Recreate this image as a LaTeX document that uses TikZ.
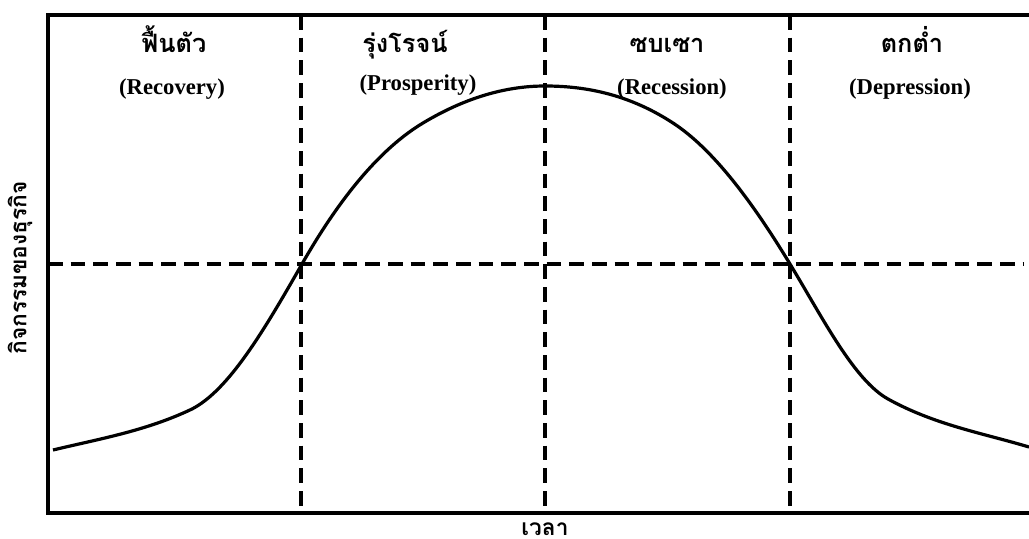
\documentclass[tikz,border=0pt]{standalone}
\usepackage{fontspec}
\setmainfont{Liberation Serif}
\newfontfamily\thaifont[Script=Thai]{Loma}
\usetikzlibrary{positioning}

\begin{document}
\begin{tikzpicture}[x=0.75pt, y=-0.75pt,
    phase/.style={anchor=base, font=\thaifont\bfseries\fontsize{19}{23}\selectfont},
    eng/.style={anchor=base, font=\bfseries\fontsize{17}{20}\selectfont},
    axislabel/.style={font=\thaifont\bfseries\fontsize{17}{20}\selectfont},
    divider/.style={line width=2.6pt, dash pattern=on 11pt off 6pt},
    axis/.style={line width=2.6pt},
    cycle/.style={line width=2.4pt, line join=round}]
    \useasboundingbox (0,0) rectangle (1029,539);

    % frame
    \coordinate (topleft) at (48,15);
    \coordinate (origin) at (48,513);
    \draw[axis] (1029,15) -- (topleft) -- (origin) -- (1029,513);

    % phase dividers and mid level
    \foreach \x/\name in {301/d1, 545/d2, 790/d3} {
        \coordinate (\name top) at (\x,15);
        \coordinate (\name bot) at (\x,513);
        \draw[divider] (\name top) -- (\name bot);
    }
    \coordinate (midleft) at (48,264);
    \coordinate (midright) at (1024,264);
    \draw[divider] (midleft) -- (midright);

    % business cycle
    \coordinate (start) at (53,450);
    \coordinate (rise) at (302,264);
    \coordinate (peak) at (545,86);
    \coordinate (fall) at (790,264);
    \coordinate (finish) at (1029,447);
    \draw[cycle] (start)
        .. controls (98.7,439) and (146,431) .. (192,409)
        .. controls (229,390) and (264.7,329.3) .. (rise)
        .. controls (342.3,193.4) and (382.7,147.2) .. (423,123)
        .. controls (463.7,98.6) and (504.3,86) .. (peak)
        .. controls (587.7,86) and (630.3,95.2) .. (673,123)
        .. controls (712,148.4) and (751,199.6) .. (fall)
        .. controls (823.3,319) and (854,380) .. (888,399)
        .. controls (935,425) and (982.7,433.1) .. (finish);

    % phase names
    \node[phase] (recoveryth) at (174,52) {ฟื้นตัว};
    \node[phase] (prosperityth) at (405,52) {รุ่งโรจน์};
    \node[phase] (recessionth) at (667,52) {ซบเซา};
    \node[phase] (depressionth) at (912,52) {ตกต่ำ};
    \node[eng] (recovery) at (172,94) {(Recovery)};
    \node[eng] (prosperity) at (418,90) {(Prosperity)};
    \node[eng] (recession) at (672,94) {(Recession)};
    \node[eng] (depression) at (910,94) {(Depression)};

    % axis labels
    \node[axislabel, rotate=90] (activity) at (20,268) {กิจกรรมของธุรกิจ};
    \node[axislabel, anchor=north] (time) at (545,518) {เวลา};
\end{tikzpicture}
\end{document}
